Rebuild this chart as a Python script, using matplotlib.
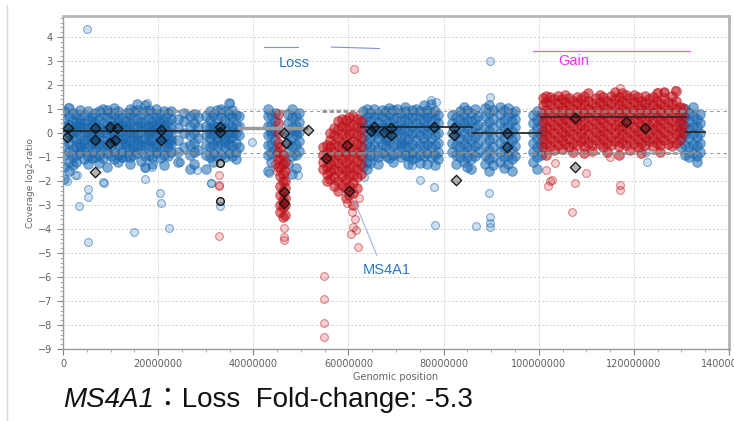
import numpy as np
import matplotlib
matplotlib.use('Agg')
import matplotlib.pyplot as plt
from matplotlib.ticker import MultipleLocator, FuncFormatter

# ---- datos (posicion en Mb, log2-ratio) ----
# columnas densas azules: posicion y lista de valores
blue_col_x = [0.3, 1.2, 2.0, 2.8, 3.6, 4.4, 5.2, 6.0, 6.8, 7.6, 8.4, 9.2, 10.0, 10.8, 11.6, 12.4,
              13.2, 14.0, 14.8, 15.6, 16.4, 17.2, 18.0, 18.8, 19.6, 20.4, 21.2, 22.0, 22.8,
              24.2, 25.4, 26.6, 27.6, 28.4,
              30.0, 30.8, 31.6, 32.4, 33.2, 34.0, 34.8, 35.6, 36.4, 37.0,
              43.0, 43.8, 44.5, 47.3, 48.1, 48.9, 49.6,
              63.0, 63.8, 64.6, 65.4, 66.2, 67.0, 67.8, 68.6, 69.4, 70.2, 71.0, 71.8, 72.6, 73.4,
              74.2, 75.0, 75.8, 76.6, 77.4, 78.2, 78.9,
              81.8, 82.6, 83.4, 84.2, 85.0, 85.8, 86.6, 87.2,
              88.8, 89.6, 90.4, 91.9, 92.7, 93.5, 94.3, 95.1,
              98.8, 99.6, 100.4,
              130.0, 130.8, 131.6, 132.4, 133.2, 133.8]
blue_col_y = [
    [-1.9, -1.4, -0.9, -0.5, -0.1, 0.3, 0.6, 0.9],
    [-1.2, -0.8, -0.4, 0.0, 0.35, 0.7, 1.05, -1.6],
    [-1.0, -0.65, -0.2, 0.15, 0.5, 0.85, -1.35, 0.05],
    [-0.9, -0.55, -0.25, 0.1, 0.45, 0.8, -1.2, 0.3],
    [-0.85, -0.45, -0.1, 0.25, 0.6, 0.95, -0.6, 0.4],
    [-1.1, -0.7, -0.3, 0.05, 0.4, 0.75, 0.2, -0.45],
    [-0.95, -0.6, -0.2, 0.2, 0.55, 0.9, -0.05, -1.3],
    [-0.8, -0.4, 0.0, 0.35, 0.7, -0.15, 0.5, -1.05],
    [-1.0, -0.6, -0.25, 0.1, 0.45, 0.85, 0.25, -0.4],
    [-0.9, -0.5, -0.15, 0.2, 0.55, 0.9, -1.25, 0.0],
    [-1.05, -0.7, -0.3, 0.05, 0.4, 0.8, 1.0, -0.5],
    [-0.85, -0.45, -0.05, 0.3, 0.65, 0.95, -1.4, 0.15],
    [-0.95, -0.55, -0.2, 0.15, 0.5, 0.85, -0.35, 0.3],
    [-1.1, -0.75, -0.35, 0.0, 0.35, 0.75, 1.05, -0.1],
    [-0.9, -0.5, -0.1, 0.25, 0.6, 0.9, -1.2, 0.45],
    [-0.8, -0.45, -0.05, 0.3, 0.65, -0.25, 0.1, -1.0],
    [-0.95, -0.6, -0.2, 0.15, 0.5, 0.85, -0.4, 0.3],
    [-1.0, -0.65, -0.3, 0.05, 0.4, 0.8, 1.0, -1.3],
    [-0.9, -0.5, -0.15, 0.2, 0.55, 0.9, 0.0, -0.7],
    [-0.85, -0.45, -0.1, 0.25, 0.6, 0.95, 1.2, -0.3],
    [-1.15, -0.7, -0.3, 0.1, 0.45, 0.8, -0.5, 0.3],
    [-0.95, -0.55, -0.2, 0.15, 0.5, 0.9, 1.15, -1.4],
    [-0.9, -0.5, -0.1, 0.25, 0.6, 0.95, -0.3, 0.05],
    [-1.0, -0.6, -0.25, 0.1, 0.45, 0.85, -1.3, 0.3],
    [-0.85, -0.45, -0.05, 0.3, 0.65, 1.0, -0.6, 0.15],
    [-1.05, -0.7, -0.3, 0.05, 0.4, 0.8, -0.15, 0.55],
    [-0.9, -0.55, -0.2, 0.15, 0.5, 0.9, -1.35, 0.3],
    [-0.95, -0.6, -0.25, 0.1, 0.45, 0.85, 0.0, -0.4],
    [-0.8, -0.45, -0.1, 0.25, 0.6, 0.9, -0.3],
    [-0.8, -0.3, 0.2, 0.6, -1.2],
    [-0.6, 0.0, 0.5, 0.85],
    [-0.9, -0.5, -0.1, 0.3, 0.7, -1.5],
    [-0.8, -0.4, 0.0, 0.4, 0.8, -1.3],
    [-0.7, -0.2, 0.25, 0.65],
    [-0.9, -0.5, -0.1, 0.3, 0.7, -1.5],
    [-1.0, -0.6, -0.2, 0.2, 0.55, 0.9, 0.0],
    [-0.85, -0.45, -0.05, 0.35, 0.75, -1.2, 0.15],
    [-0.95, -0.55, -0.15, 0.25, 0.6, 0.95, -0.3],
    [-0.9, -0.5, -0.1, 0.3, 0.7, 1.0, 0.1],
    [-1.0, -0.6, -0.2, 0.2, 0.55, 0.9, -0.35],
    [-0.85, -0.45, 0.0, 0.4, 0.8, 1.25, -0.2],
    [-0.95, -0.55, -0.15, 0.25, 0.65, 0.95, 0.05],
    [-0.8, -0.4, 0.0, 0.35, 0.75, -1.1],
    [-0.6, -0.1, 0.3, 0.7],
    [-0.9, -0.5, -0.1, 0.3, 0.7, 1.0, -1.6],
    [-0.85, -0.45, -0.05, 0.35, 0.75, -1.2, 0.1],
    [-0.7, -0.3, 0.1, 0.5, 0.85],
    [-0.8, -0.4, 0.0, 0.4, 0.8, -1.3],
    [-0.95, -0.55, -0.15, 0.25, 0.65, 1.0, -1.7],
    [-0.9, -0.5, -0.1, 0.3, 0.7, -1.45, 0.1],
    [-0.75, -0.35, 0.05, 0.45, 0.85],
    [-1.4, -1.0, -0.6, -0.2, 0.2, 0.55, 0.9],
    [-1.2, -0.8, -0.4, 0.0, 0.35, 0.7, 1.0, -1.5],
    [-0.95, -0.6, -0.2, 0.15, 0.5, 0.85, -1.25],
    [-0.9, -0.5, -0.1, 0.3, 0.65, 1.0, 0.1],
    [-1.0, -0.65, -0.25, 0.1, 0.45, 0.8, -1.3],
    [-0.85, -0.45, -0.05, 0.35, 0.7, 0.95, 0.2],
    [-0.95, -0.55, -0.15, 0.2, 0.55, 0.9, -0.3],
    [-1.05, -0.7, -0.3, 0.1, 0.45, 0.8, 1.05],
    [-0.9, -0.5, -0.1, 0.25, 0.6, 0.95, -1.2],
    [-0.85, -0.45, -0.05, 0.3, 0.65, 1.0, 0.15],
    [-1.0, -0.6, -0.2, 0.15, 0.5, 0.85, -0.4],
    [-0.9, -0.55, -0.15, 0.2, 0.55, 0.9, 1.1],
    [-0.95, -0.6, -0.25, 0.1, 0.45, 0.8, -1.3],
    [-0.85, -0.45, -0.05, 0.3, 0.65, 0.95, -1.1],
    [-1.0, -0.65, -0.3, 0.05, 0.4, 0.75, 1.0],
    [-0.9, -0.5, -0.1, 0.25, 0.6, 0.9, -1.25],
    [-0.95, -0.55, -0.2, 0.15, 0.5, 0.85, 1.15],
    [-0.85, -0.45, -0.05, 0.3, 0.65, 0.95, -1.3],
    [-1.0, -0.6, -0.2, 0.15, 0.5, 0.85, 1.2],
    [-0.9, -0.5, -0.1, 0.25, 0.6, 0.9, -1.35],
    [-0.8, -0.4, 0.0, 0.4, 0.75, -1.1],
    [-0.8, -0.4, 0.0, 0.4, 0.75],
    [-0.9, -0.5, -0.1, 0.3, 0.65, -1.3],
    [-1.0, -0.6, -0.2, 0.2, 0.55, 0.9],
    [-1.2, -0.8, -0.4, 0.0, 0.4, 0.8, 1.1],
    [-1.4, -1.0, -0.6, -0.2, 0.2, 0.55, 0.95],
    [-1.1, -0.7, -0.3, 0.1, 0.5, 0.85, -1.5],
    [-0.95, -0.55, -0.15, 0.25, 0.6, 1.0],
    [-0.8, -0.4, 0.0, 0.35, 0.7],
    [-1.3, -0.9, -0.5, -0.1, 0.3, 0.7, 1.05],
    [-1.1, -0.7, -0.3, 0.1, 0.45, 0.85, 1.15, -1.6],
    [-1.0, -0.6, -0.2, 0.2, 0.6, 0.95, -1.35],
    [-1.2, -0.8, -0.4, 0.0, 0.4, 0.8, 1.1],
    [-1.0, -0.6, -0.2, 0.2, 0.55, 0.95, -1.45],
    [-1.3, -0.9, -0.5, -0.1, 0.3, 0.7, 1.05],
    [-1.1, -0.7, -0.3, 0.1, 0.5, 0.85, -1.6],
    [-0.95, -0.55, -0.15, 0.25, 0.6, 0.9],
    [-1.2, -0.8, -0.4, 0.0, 0.4, 0.75],
    [-1.0, -0.6, -0.2, 0.2, 0.55, 0.9, -1.5],
    [-0.9, -0.5, -0.1, 0.3, 0.7],
    [-0.6, -0.2, 0.2, 0.55],
    [-0.9, -0.5, -0.1, 0.3, 0.65, 1.0],
    [-1.0, -0.6, -0.2, 0.15, 0.5, 0.85],
    [-0.85, -0.45, -0.05, 0.3, 0.7, 1.1],
    [-0.95, -0.55, -0.15, 0.25, 0.6, -1.2],
    [-0.8, -0.4, 0.0, 0.4, 0.8],
]

# columnas densas rojas (perdida 45-47 Mb, perdida 54-63 Mb, ganancia 100-131 Mb)
red_col_x = [45.2, 45.7, 46.2, 46.7,
             54.6, 55.4, 56.2, 57.0, 57.8, 58.6, 59.4, 60.2, 61.0, 61.8, 62.6,
             100.8, 101.6, 102.4, 103.2, 104.0, 104.8, 105.6, 106.4, 107.2, 108.0, 108.8, 109.6,
             110.4, 111.2, 112.0, 112.8, 113.6, 114.4, 115.2, 116.0, 116.8, 117.6, 118.4, 119.2,
             120.0, 120.8, 121.6, 122.4, 123.2, 124.0, 124.8, 125.6, 126.4, 127.2, 128.0, 128.8,
             129.6, 130.4]
red_col_y = [
    [0.8, 0.4, 0.0, -0.4, -0.8, -1.1, -1.4],
    [-0.6, -1.0, -1.4, -1.8, -2.2, -2.6, -3.0, -3.3],
    [-0.9, -1.3, -1.7, -2.0, -2.4, -2.8, -3.1, -3.5],
    [-1.2, -1.6, -2.0, -2.3, -2.7, -3.0, -3.4],
    [-0.9, -1.2, -1.5, -0.6],
    [-0.5, -0.8, -1.1, -1.4, -1.7, -2.0],
    [-0.3, -0.6, -0.95, -1.3, -1.6, -1.9, 0.0],
    [0.2, -0.1, -0.45, -0.8, -1.15, -1.5, -1.85, -2.2],
    [0.5, 0.15, -0.2, -0.55, -0.9, -1.25, -1.6, -2.0, -2.4],
    [0.6, 0.3, -0.05, -0.4, -0.75, -1.1, -1.45, -1.8, -2.15],
    [0.55, 0.2, -0.15, -0.5, -0.85, -1.2, -1.55, -1.9, -2.3, -2.7],
    [0.65, 0.3, -0.05, -0.4, -0.75, -1.1, -1.45, -1.8, -2.2, -2.6],
    [0.7, 0.35, 0.0, -0.35, -0.7, -1.05, -1.4, -1.75, -2.1, -2.5, -3.0],
    [0.6, 0.25, -0.1, -0.45, -0.8, -1.15, -1.5, -1.85, -2.3],
    [0.5, 0.15, -0.2, -0.55, -0.9, -1.3, -1.7],
    [-0.6, -0.25, 0.1, 0.45, 0.8, 1.15, 1.45],
    [-0.45, -0.1, 0.25, 0.6, 0.95, 1.3, 1.55, -0.9],
    [-0.55, -0.2, 0.15, 0.5, 0.85, 1.2, 1.5],
    [-0.35, 0.0, 0.35, 0.7, 1.05, 1.4, -0.7],
    [-0.5, -0.15, 0.2, 0.55, 0.9, 1.25, 1.55],
    [-0.3, 0.05, 0.4, 0.75, 1.1, 1.4, -0.65],
    [-0.45, -0.1, 0.25, 0.6, 0.95, 1.3, 1.6],
    [-0.6, -0.25, 0.1, 0.45, 0.8, 1.15, 1.45],
    [-0.4, -0.05, 0.3, 0.65, 1.0, 1.35, -0.8],
    [-0.5, -0.15, 0.2, 0.55, 0.9, 1.25, 1.5],
    [-0.35, 0.0, 0.35, 0.7, 1.05, 1.4],
    [-0.55, -0.2, 0.15, 0.5, 0.85, 1.2, 1.55, -0.85],
    [-0.4, -0.05, 0.3, 0.65, 1.0, 1.35, 1.65],
    [-0.5, -0.15, 0.2, 0.55, 0.9, 1.25, -0.75],
    [-0.3, 0.05, 0.4, 0.75, 1.1, 1.45],
    [-0.45, -0.1, 0.25, 0.6, 0.95, 1.3, 1.6],
    [-0.6, -0.25, 0.1, 0.45, 0.8, 1.15, 1.5],
    [-0.4, -0.05, 0.3, 0.65, 1.0, 1.35, -0.8],
    [-0.5, -0.15, 0.2, 0.55, 0.9, 1.25, 1.55],
    [-0.35, 0.0, 0.35, 0.7, 1.05, 1.4, 1.7],
    [-0.55, -0.2, 0.15, 0.5, 0.85, 1.2, 1.5, -0.9],
    [-0.4, -0.05, 0.3, 0.65, 1.0, 1.35, 1.65],
    [-0.5, -0.15, 0.2, 0.55, 0.9, 1.25, 1.6],
    [-0.3, 0.05, 0.4, 0.75, 1.1, 1.45, -0.7],
    [-0.45, -0.1, 0.25, 0.6, 0.95, 1.3, 1.6],
    [-0.6, -0.25, 0.1, 0.45, 0.8, 1.15, 1.5],
    [-0.4, -0.05, 0.3, 0.65, 1.0, 1.35, -0.85],
    [-0.5, -0.15, 0.2, 0.55, 0.9, 1.25, 1.55],
    [-0.35, 0.0, 0.35, 0.7, 1.05, 1.4],
    [-0.55, -0.2, 0.15, 0.5, 0.85, 1.2, 1.5],
    [-0.4, -0.05, 0.3, 0.65, 1.0, 1.35, 1.65],
    [-0.5, -0.15, 0.2, 0.55, 0.9, 1.25, -0.8],
    [-0.3, 0.05, 0.4, 0.75, 1.1, 1.45, 1.7],
    [-0.45, -0.1, 0.25, 0.6, 0.95, 1.3],
    [-0.55, -0.2, 0.15, 0.5, 0.85, 1.2, 1.55],
    [-0.4, -0.05, 0.3, 0.65, 1.0, 1.35, 1.75],
    [-0.3, 0.05, 0.4, 0.75, 1.1],
    [0.0, 0.35, 0.7, 1.05],
]

# puntos aislados
blue_out_x = [5.0, 2.9, 0.8, 8.4, 8.6, 17.2, 20.3, 24.5, 31.2, 35.0, 17.6, 1.0, 5.3, 5.3, 3.4, 5.3,
              14.9, 20.5, 22.2, 32.9, 78.2, 86.8, 78.0, 75.0, 89.5, 89.7, 89.7, 89.7, 89.7, 89.7,
              77.3, 78.4, 73.3, 63.3, 28.1, 31.2, 43.4, 49.3, 39.8, 2.5, 12.4, 17.2, 18.8,
              122.6, 122.8, 122.7, 122.6, 122.8, 123.0]
blue_out_y = [4.33, -1.75, -2.0, -2.04, -2.1, -1.92, -2.5, -1.2, -2.1, 1.25, 1.25, 1.1, -2.33, -2.67,
              -3.04, -4.54, -4.13, -2.92, -3.96, -3.04, -3.83, -3.88, -2.25, -1.96, -2.5, -3.5,
              -3.75, -3.9, 3.0, 1.5, 1.37, 1.3, -1.33, -1.83, -1.54, -2.08, -1.67, -1.75, -0.38,
              -1.75, -1.04, -1.46, -1.42, 1.08, 0.5, -0.3, -0.8, -1.2, 0.1]
red_out_x = [32.7, 32.7, 32.7, 32.7, 46.4, 46.4, 46.5, 45.0, 44.6,
             60.8, 61.4, 61.0, 61.6, 60.6, 62.0, 61.2, 59.8, 62.2, 54.9, 54.9, 54.9, 54.9,
             101.9, 102.3, 102.8, 107.7, 107.1, 117.0, 117.0, 101.5, 110.0, 115.0,
             117.0, 128.7, 125.0, 126.3, 103.4]
red_out_y = [-1.75, -2.17, -2.2, -4.29, -3.96, -4.33, -4.46, -1.6, -1.3,
             -3.3, -3.6, -3.9, -4.05, -4.2, -4.75, 2.67, -2.9, -2.7, -5.96, -6.9, -7.9, -8.5,
             -2.2, -2.0, -1.95, -2.1, -3.3, -2.17, -2.37, -1.54, -1.67, -1.0,
             1.87, 1.8, 1.7, 1.7, -1.25]

# marcadores de genes (rombos)
dia_x = [0.8, 1.0, 6.7, 6.7, 9.9, 11.4, 9.9, 10.9, 20.5, 20.5, 6.7, 32.9, 32.9, 46.8, 46.4,
         46.4, 46.4, 51.4, 55.3, 59.7, 60.1, 64.8, 65.4, 67.5, 69.0, 69.0, 78.0, 82.2, 82.2,
         82.6, 93.3, 93.3, 107.7, 107.7, 118.4, 122.4]
dia_y = [-0.17, 0.2, 0.2, -0.29, 0.25, 0.2, -0.42, -0.29, 0.13, -0.29, -1.62, 0.04, 0.25, -0.42,
         0.0, -2.46, -2.9, 0.13, -1.04, -0.5, -2.42, 0.1, 0.25, 0.04, 0.2, -0.1, 0.25, 0.2, -0.1,
         -1.96, 0.0, -0.58, 0.63, -1.42, 0.46, 0.2]
ring_x = [32.9, 32.9]
ring_y = [-1.25, -2.83]

# segmentos (inicio, fin en Mb, nivel)
seg_x0 = [0, 62.7, 86, 100.5, 131]
seg_x1 = [37, 86, 100.5, 131, 135]
seg_y = [0.08, 0.25, 0.0, 0.67, 0.04]
grey_seg = (37, 51, 0.22)

# umbrales y zonas con datos
thr_up, thr_low = 0.9, -0.83
zone_x0 = [0, 23.7, 29.8, 42.8, 54.5, 62.7, 81.5, 88.5, 91.6, 98.5, 129.7]
zone_x1 = [23.2, 28.7, 37.1, 49.7, 63.0, 79.0, 87.4, 91.0, 95.4, 131.0, 134.1]

MB = 1e6
azul = '#1a68b0'
rojo = '#bf1018'
rgba = matplotlib.colors.to_rgba


def aplanar(cx, cy):
    xs, ys = [], []
    for x, vals in zip(cx, cy):
        xs += [x] * len(vals)
        ys += vals
    return np.array(xs) * MB, np.array(ys)


bx, by = aplanar(blue_col_x, blue_col_y)
rx, ry = aplanar(red_col_x, red_col_y)

fig = plt.figure(figsize=(7.34, 4.21), dpi=100)
fig.patch.set_facecolor('white')
ax = fig.add_axes([63 / 734, 1 - 349 / 421, 666 / 734, 333 / 421])

ax.set_xlim(0, 1.4e8)
ax.set_ylim(-9, 4.875)

# rejilla
ax.grid(axis='y', which='major', ls=(0, (2, 2)), color='#cfcfcf', lw=0.7, zorder=0)
ax.grid(axis='x', which='major', ls=(0, (1, 1)), color='#d5d5d5', lw=0.8, zorder=0)

# umbrales
ax.axhline(thr_up, color='#9a9a9a', lw=0.8, ls=(0, (3, 3)), zorder=1)
ax.axhline(thr_low, color='#9a9a9a', lw=0.8, ls=(0, (3, 3)), zorder=1)

ax.scatter(bx, by, s=48, linewidths=0.7, facecolor=rgba(azul, 0.55),
           edgecolor=rgba(azul, 0.55), zorder=2)
ax.scatter(np.array(blue_out_x) * MB, blue_out_y, s=32, linewidths=0.8,
           facecolor=rgba(azul, 0.2), edgecolor=rgba(azul, 0.5), zorder=2)
ax.scatter(rx, ry, s=48, linewidths=0.7, facecolor=rgba(rojo, 0.55),
           edgecolor=rgba(rojo, 0.55), zorder=3)
ax.scatter(np.array(red_out_x) * MB, red_out_y, s=32, linewidths=0.8,
           facecolor=rgba(rojo, 0.2), edgecolor=rgba(rojo, 0.45), zorder=3)

# marcas grises de umbral donde hay datos
for a, b in zip(zone_x0, zone_x1):
    for t in (thr_up, thr_low):
        ax.plot([a * MB, b * MB], [t, t], color='#8c8c8c', lw=2.2, alpha=0.8,
                ls=(0, (1.5, 0.8)), zorder=4, solid_capstyle='butt')

# segmentos
for a, b, v in zip(seg_x0, seg_x1, seg_y):
    ax.plot([a * MB, b * MB], [v, v], color='#2a2a2a', lw=1.3, zorder=5)
ax.plot([grey_seg[0] * MB, grey_seg[1] * MB], [grey_seg[2]] * 2, color='#9a9a9a', lw=2.5, zorder=5)

ax.scatter(np.array(dia_x) * MB, dia_y, marker='D', s=28, facecolor=(0, 0, 0, 0.3),
           edgecolor='#111111', linewidths=0.9, zorder=6)
ax.scatter(np.array(ring_x) * MB, ring_y, marker='o', s=30, facecolor=(0.3, 0.3, 0.3, 0.4),
           edgecolor='#111111', linewidths=1.0, zorder=6)

# anotaciones
ax.plot([42.3 * MB, 49.3 * MB], [3.58, 3.58], color='#7b93d6', lw=0.8, zorder=6)
ax.plot([56.4 * MB, 66.5 * MB], [3.58, 3.52], color='#7b93d6', lw=0.8, zorder=6)
ax.text(48.6 * MB, 2.9, 'Loss', color='#2c79c2', fontsize=10.5, ha='center', va='center',
        family='Liberation Sans')
ax.plot([98.7 * MB, 131.9 * MB], [3.42, 3.42], color='#ff55ff', lw=0.9, zorder=6)
ax.text(107.3 * MB, 3.0, 'Gain', color='#ff2bff', fontsize=10.5, ha='center', va='center',
        family='Liberation Sans')
ax.plot([61.2 * MB, 66.0 * MB], [-2.8, -5.1], color='#9fb3dd', lw=0.8, zorder=6)
ax.text(68.1 * MB, -5.7, 'MS4A1', color='#2c79c2', fontsize=10.5, ha='center', va='center',
        family='Liberation Sans')

# ejes
ax.xaxis.set_major_locator(MultipleLocator(2e7))
ax.xaxis.set_minor_locator(MultipleLocator(5e6))
ax.xaxis.set_major_formatter(FuncFormatter(lambda v, p: '%d' % v))
ax.yaxis.set_major_locator(MultipleLocator(1))
ax.yaxis.set_minor_locator(MultipleLocator(0.2))
ax.tick_params(axis='both', which='major', labelsize=7, colors='#808080', labelcolor='#606060',
               length=4, width=0.8)
ax.tick_params(axis='both', which='minor', colors='#a0a0a0', length=2.5, width=0.6)

for s in ('left', 'bottom'):
    ax.spines[s].set_color('#9a9a9a')
    ax.spines[s].set_linewidth(1.0)
for s in ('top', 'right'):
    ax.spines[s].set_color('#b5b5b5')
    ax.spines[s].set_linewidth(2.0)

ax.set_xlabel('Genomic position', fontsize=7, color='#666666', labelpad=2)
ax.set_ylabel('Coverage log2-ratio', fontsize=6.5, color='#666666', labelpad=2)

# linea exterior y titulo inferior
fig.add_artist(plt.Line2D([7 / 734, 7 / 734], [0, 1 - 5 / 421], color='#d9d9d9', lw=1.0))
t1 = fig.text(63 / 734, 1 - 400 / 421, 'MS4A1', fontsize=20, style='italic', va='center',
              family='Liberation Sans', color='#111111')
ax.annotate('：Loss  Fold-change: -5.3', xy=(1, 0.5), xycoords=t1, va='center', ha='left',
            fontsize=20, family=['Liberation Sans', 'Noto Sans CJK JP'], color='#111111',
            annotation_clip=False)

fig.savefig('out.png', dpi=100)
